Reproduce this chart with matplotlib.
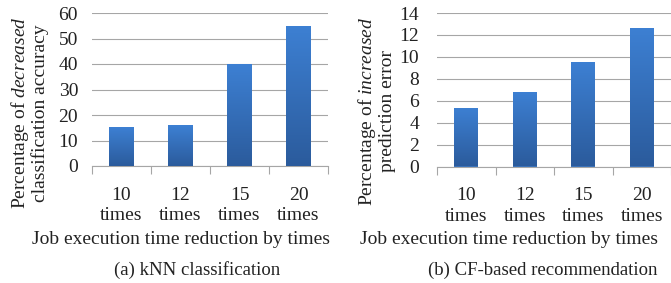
import numpy as np
import matplotlib
matplotlib.use("Agg")
import matplotlib.pyplot as plt
from matplotlib.colors import LinearSegmentedColormap

plt.rcParams['font.family'] = ['Liberation Serif', 'DejaVu Serif']
plt.rcParams['mathtext.fontset'] = 'custom'
plt.rcParams['mathtext.rm'] = 'Liberation Serif'
plt.rcParams['mathtext.it'] = 'Liberation Serif:italic'

categories = ["10\ntimes", "12\ntimes", "15\ntimes", "20\ntimes"]
knn_values = [15.2, 16.0, 40.0, 55.0]
cf_values = [5.3, 6.8, 9.5, 12.6]

W, H = 671, 283
fig = plt.figure(figsize=(W / 100, H / 100), dpi=100)

cmap = LinearSegmentedColormap.from_list("g", ["#2b5b9c", "#3d80d3"])
grid_col = "#a6a6a6"
txt_col = "#222222"


def panel(rect, values, ymax, ystep, ylabel_lines, ylabel_xpx, ylabel_ypx,
          xlabel_xpx, caption, caption_xpx, ypad):
    ax = fig.add_axes(rect)
    x = np.arange(len(values))
    bars = ax.bar(x, values, width=0.41, color="#3570bb", zorder=2)
    grad = np.linspace(0, 1, 256).reshape(-1, 1)
    for b in bars:
        x0, y0 = b.get_x(), b.get_y()
        im = ax.imshow(grad, cmap=cmap, origin="lower", aspect="auto",
                       extent=(x0, x0 + b.get_width(), y0, y0 + b.get_height()),
                       zorder=3)
        im.set_clip_path(b)
    ax.set_xlim(-0.5, len(values) - 0.5)
    ax.set_ylim(0, ymax)
    ax.set_yticks(np.arange(0, ymax + 0.01, ystep))
    ax.yaxis.grid(True, color=grid_col, linewidth=0.8, zorder=0)
    ax.set_axisbelow(True)
    for s in ("top", "right", "left"):
        ax.spines[s].set_visible(False)
    ax.spines["bottom"].set_color(grid_col)
    ax.spines["bottom"].set_linewidth(0.8)
    ax.tick_params(axis="y", length=0, labelsize=14, pad=ypad, colors=txt_col)
    ax.set_xticks(x)
    ax.set_xticklabels(categories, fontsize=14, linespacing=1.25, color=txt_col)
    ax.tick_params(axis="x", length=0, pad=15)
    ax.set_xticks(np.arange(-0.5, len(values), 1.0), minor=True)
    ax.tick_params(axis="x", which="minor", length=6, color=grid_col, width=0.8)
    fig.text(xlabel_xpx / W, 1 - 240 / H, "Job execution time reduction by times",
             fontsize=14, ha="center", va="center", color=txt_col)
    fig.text(ylabel_xpx / W, 1 - ylabel_ypx / H, ylabel_lines, fontsize=14,
             rotation=90, ha="center", va="center", color=txt_col,
             linespacing=1.0, multialignment="center")
    fig.text(caption_xpx / W, 1 - 270 / H, caption, fontsize=13.5,
             ha="center", va="center", color=txt_col)
    return ax


panel([92 / W, 1 - 166 / H, 236 / W, 153 / H], knn_values, 60, 10,
      "Percentage of $\\mathit{decreased}$\nclassification accuracy",
      29, 113, 181, "(a) kNN classification", 197, 10)
panel([437 / W, 1 - 166.5 / H, 234 / W, 153.5 / H], cf_values, 14, 2,
      "Percentage of $\\mathit{increased}$\nprediction error",
      376, 111, 509, "(b) CF-based recommendation", 543, 13)

fig.savefig("out.png", dpi=100)
